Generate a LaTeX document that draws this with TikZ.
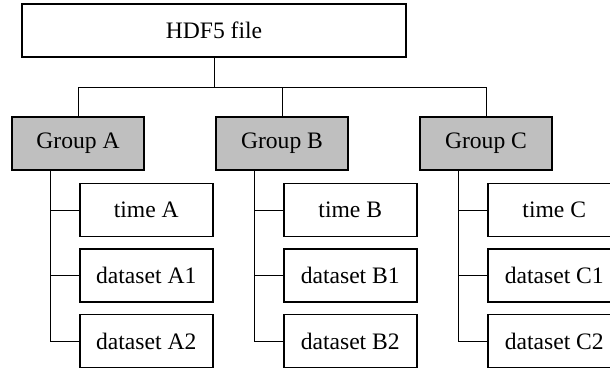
\documentclass[tikz,border=0pt]{standalone}
\usepackage{fontspec}
\setmainfont{Liberation Serif}
\usepackage{xcolor}
\usepackage{tikz}
\usetikzlibrary{positioning}

\begin{document}
\begin{tikzpicture}[
  font=\fontsize{11.8}{14}\selectfont,
  box/.style={draw=black, line width=0.75pt, inner sep=0pt, minimum height=26.5pt, anchor=center},
  filebox/.style={box, minimum width=192pt},
  groupbox/.style={box, fill=black!25, minimum width=66pt},
  itembox/.style={box, minimum width=66.5pt},
  link/.style={draw=black, line width=0.4pt}]
\clip (0,0) rectangle (305pt,-185pt);
\node[filebox] (file) at (107pt,-15.25pt) {HDF5 file};
\foreach \g/\x in {A/39pt,B/141pt,C/243pt} {
  \node[groupbox] (g\g) at (\x,-71.75pt) {Group \g};
  \node[itembox, below right=6pt and 0.5pt of g\g.south, anchor=north west] (t\g) {time \g};
  \node[itembox, below=5.5pt of t\g] (d\g1) {dataset \g1};
  \node[itembox, below=5.5pt of d\g1] (d\g2) {dataset \g2};
  % bus from the file box
  \draw[link] (file.south) -- ([yshift=-15pt]file.south) -| (g\g.north);
  % trunk to the items
  \foreach \c in {t\g,d\g1,d\g2}
    \draw[link] ([xshift=-14pt]g\g.south) |- (\c.west);
}
\end{tikzpicture}
\end{document}
